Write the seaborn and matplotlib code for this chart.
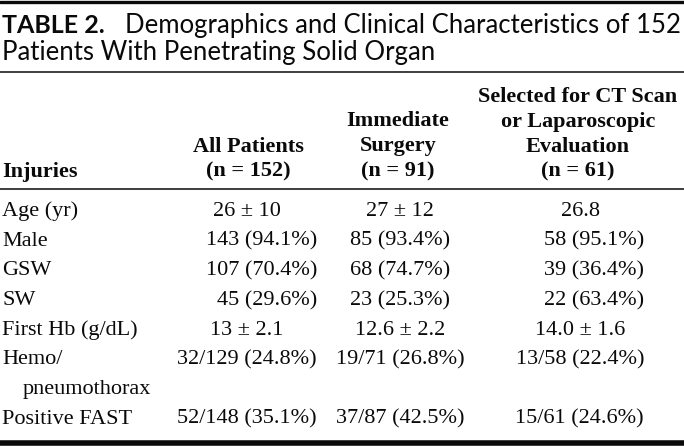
import matplotlib
matplotlib.use("Agg")
import matplotlib.pyplot as plt
import seaborn as sns

# Table content
title_label = "TABLE 2."
title_lines = ["Demographics and Clinical Characteristics of 152",
               "Patients With Penetrating Solid Organ"]

row_header = "Injuries"
col_headers = [
    ["All Patients", "(n = 152)"],
    ["Immediate", "Surgery", "(n = 91)"],
    ["Selected for CT Scan", "or Laparoscopic", "Evaluation", "(n = 61)"],
]

row_labels = ["Age (yr)", "Male", "GSW", "SW", "First Hb (g/dL)",
              "Hemo/\npneumothorax", "Positive FAST"]
row_kind = ["mean", "count", "count", "count", "mean", "count", "count"]

all_patients = ["26 \u00b1 10", "143 (94.1%)", "107 (70.4%)", "45 (29.6%)",
                "13 \u00b1 2.1", "32/129 (24.8%)", "52/148 (35.1%)"]
immediate_surgery = ["27 \u00b1 12", "85 (93.4%)", "68 (74.7%)", "23 (25.3%)",
                     "12.6 \u00b1 2.2", "19/71 (26.8%)", "37/87 (42.5%)"]
selected_ct = ["26.8", "58 (95.1%)", "39 (36.4%)", "22 (63.4%)",
               "14.0 \u00b1 1.6", "13/58 (22.4%)", "15/61 (24.6%)"]

columns = [all_patients, immediate_surgery, selected_ct]

sns.set_theme(style="white")
plt.rcParams["font.family"] = ["Liberation Serif", "DejaVu Serif"]

W, H = 684, 446
fig = plt.figure(figsize=(W / 100, H / 100), dpi=100)
ax = fig.add_axes([0, 0, 1, 1])
ax.set_xlim(0, W)
ax.set_ylim(H, 0)
ax.axis("off")

ink = "#0a0a0a"
body_size = 16
title_size = 18.5
sans = ["Lato", "DejaVu Sans"]

# column layout: (center x, right x or None)
col_center = [247, 400, 580]
col_right = [317, None, 644]
head_center = [248, 398, 578]

# rules
ax.axhline(1.5, color=ink, lw=2.4)
ax.axhline(72, color=ink, lw=1.1)
ax.axhline(188.5, color=ink, lw=1.1)
ax.axhline(443, color=ink, lw=4.0)

# title
ax.text(2, 33, title_label, family=sans, fontsize=18, fontweight="bold",
        color=ink, va="baseline", ha="left")
ax.text(681, 33, title_lines[0], family=sans, fontsize=title_size,
        color=ink, va="baseline", ha="right")
ax.text(2, 60, title_lines[1], family=sans, fontsize=title_size,
        color=ink, va="baseline", ha="left")

# header (bottom aligned)
head_base = 176.5
head_step = 25
ax.text(2, head_base, row_header, fontsize=body_size, fontweight="bold",
        color=ink, va="baseline", ha="left")
for j, lines in enumerate(col_headers):
    n = len(lines)
    for k, line in enumerate(lines):
        y = head_base - (n - 1 - k) * head_step
        ax.text(head_center[j], y, line, fontsize=body_size, fontweight="bold",
                color=ink, va="baseline", ha="center")

# body
base = 216
step = 29.7
line_idx = 0
for i, label in enumerate(row_labels):
    y = base + line_idx * step
    parts = label.split("\n")
    for k, part in enumerate(parts):
        ax.text(2 if k == 0 else 23, y + k * step, part, fontsize=body_size,
                color=ink, va="baseline", ha="left")
    for j, col in enumerate(columns):
        if row_kind[i] == "count" and col_right[j] is not None:
            ax.text(col_right[j], y, col[i], fontsize=body_size, color=ink,
                    va="baseline", ha="right")
        else:
            ax.text(col_center[j], y, col[i], fontsize=body_size, color=ink,
                    va="baseline", ha="center")
    line_idx += len(parts)

fig.savefig("out.png", dpi=100, facecolor="white")
plt.close(fig)
